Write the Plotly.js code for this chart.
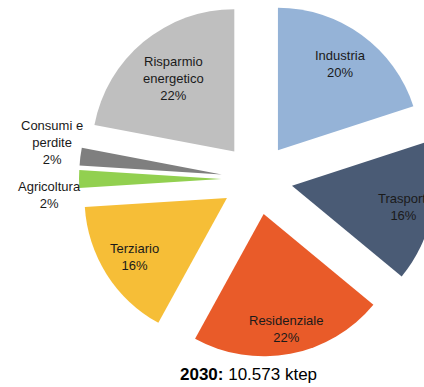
<!DOCTYPE html>
<html>
<head>
<meta charset="utf-8">
<script src="https://cdn.plot.ly/plotly-3.0.1.min.js"></script>
<style>
html,body{margin:0;padding:0;overflow:hidden;background:#fff;width:424px;height:387px;}
#chart{width:440px;height:387px;}
</style>
</head>
<body>
<div id="chart"></div>
<script>
const labels = ["Industria", "Trasporti", "Residenziale", "Terziario", "Agricoltura", "Consumi e<br>perdite", "Risparmio<br>energetico"];
const values = [20, 16, 22, 16, 2, 2, 22];
const colors = ["#95B3D7", "#4A5B75", "#E95B29", "#F6BE37", "#92D050", "#7F7F7F", "#BFBFBF"];
const outsideLabel = [false, false, false, false, true, true, false];
// label placement style: radial fraction of the radius (inside labels), vertical nudge (outside labels)
const labelRadius = [0.75, 0.8, 0.82, 0.77, 0, 0, 0.67];
const outsideYShift = [0, 0, 0, 0, -16, 11, 0];
const titleBold = "2030:";
const titleRest = " 10.573 ktep";

const W = 440, H = 387;
const M = {l: 79, r: 5, t: 1, b: 30};
const PULL = 0.25;
const FONT = "Arial, 'Liberation Sans', sans-serif";

const trace = {
  type: "pie",
  labels: labels,
  values: values,
  sort: false,
  direction: "clockwise",
  rotation: 0,
  pull: values.map(() => PULL),
  marker: {colors: colors, line: {width: 0}},
  textinfo: "none",
  hoverinfo: "none",
  showlegend: false
};

// label annotations placed along each slice's mid-angle
const plotW = W - M.l - M.r, plotH = H - M.t - M.b;
const size = Math.min(plotW, plotH);
const rPx = size / (2 + 2 * PULL);
const total = values.reduce((a, b) => a + b, 0);
let cum = 0;
const annotations = [];
values.forEach((v, i) => {
  const frac = (cum + v / 2) / total;
  cum += v;
  const th = 2 * Math.PI * frac;
  const pct = Math.round(100 * v / total) + "%";
  const R = outsideLabel[i] ? rPx * PULL + rPx + 29 : rPx * PULL + labelRadius[i] * rPx;
  annotations.push({
    text: labels[i] + "<br>" + pct,
    xref: "paper", yref: "paper",
    x: 0.5 + R * Math.sin(th) / plotW,
    y: 0.5 + R * Math.cos(th) / plotH,
    xanchor: "center", yanchor: "middle",
    yshift: outsideYShift[i],
    showarrow: false,
    font: {family: FONT, size: 13, color: "#1a1a1a"}
  });
});
annotations.push({
  text: "<b>" + titleBold + "</b>" + titleRest,
  xref: "paper", yref: "paper",
  x: 0.476, y: -0.05,
  xanchor: "center", yanchor: "middle",
  showarrow: false,
  font: {family: FONT, size: 17, color: "#000000"}
});

const layout = {
  width: W,
  height: H,
  margin: M,
  paper_bgcolor: "#ffffff",
  plot_bgcolor: "#ffffff",
  showlegend: false,
  annotations: annotations
};

Plotly.newPlot("chart", [trace], layout, {displayModeBar: false, staticPlot: true});
</script>
</body>
</html>
